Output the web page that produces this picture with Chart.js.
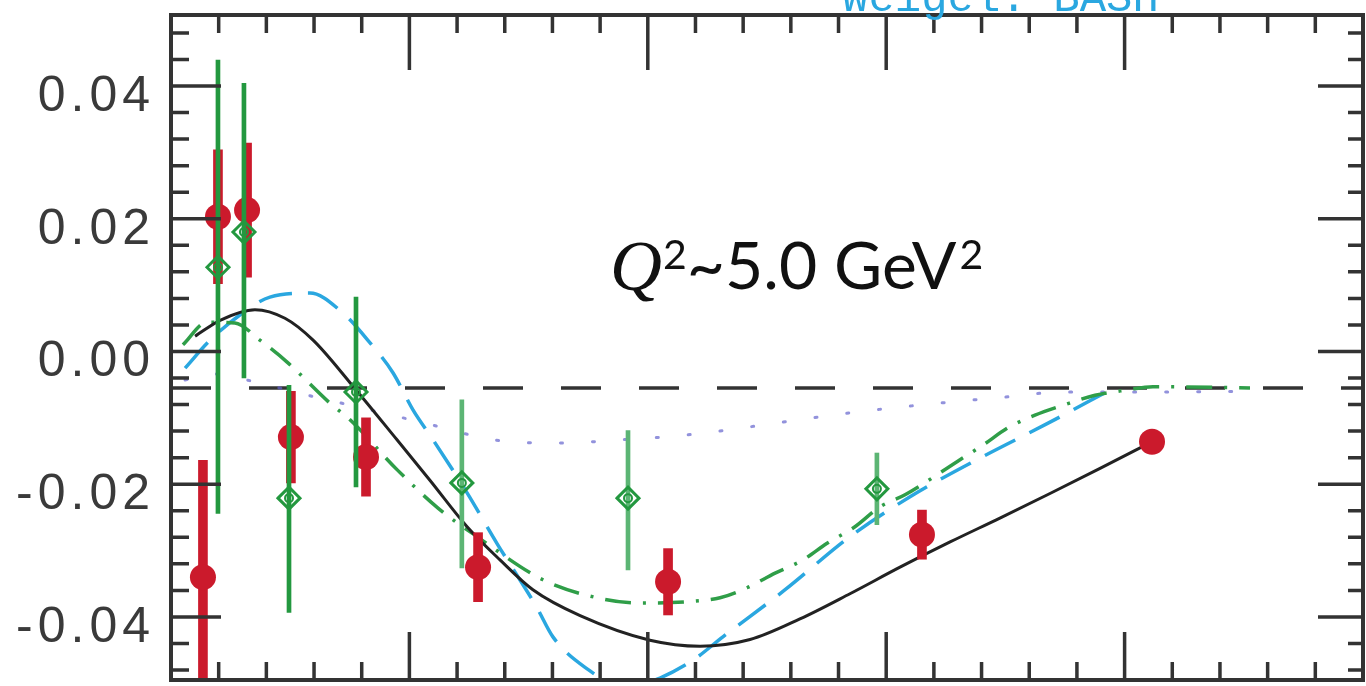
<!DOCTYPE html>
<html>
<head>
<meta charset="utf-8">
<script src="https://cdn.jsdelivr.net/npm/chart.js@4.4.1/dist/chart.umd.min.js"></script>
<style>
  html, body { margin: 0; padding: 0; background: #fff; }
  canvas { display: block; }
</style>
</head>
<body>
<canvas id="grafico" width="1366" height="686"></canvas>
<script>
// ------------------- DATA -------------------

// red filled circles (thick error bars)
const redX = [0.0134, 0.0197, 0.0319, 0.0503, 0.0818, 0.1288, 0.2085, 0.3150, 0.4115];
const redY = [-0.0340, 0.0203, 0.0213, -0.0129, -0.0159, -0.0325, -0.0347, -0.0276, -0.0136];
const redErr = [0.0176, 0.0101, 0.0101, 0.0069, 0.0059, 0.0052, 0.0050, 0.0037, 0.0000];

// green open diamonds (thin error bars, up / down)
const greenX = [0.0197, 0.0306, 0.0495, 0.0776, 0.1220, 0.1917, 0.2961];
const greenY = [0.0127, 0.0180, -0.0221, -0.0061, -0.0198, -0.0221, -0.0207];
const greenErrUp = [0.0312, 0.0224, 0.0170, 0.0143, 0.0125, 0.0102, 0.0054];
const greenErrDown = [0.0371, 0.0220, 0.0172, 0.0143, 0.0128, 0.0108, 0.0054];

// black solid curve
const blackX = [0.0101, 0.0206, 0.0352, 0.0478, 0.0596, 0.0751, 0.0948, 0.1086, 0.1242, 0.1380, 0.1518, 0.1716, 0.2009, 0.2219, 0.2429, 0.2638, 0.2848, 0.3058, 0.3268, 0.3477, 0.3687, 0.3897, 0.4115];
const blackY = [0.0023, 0.0047, 0.0063, 0.0050, 0.0017, -0.0047, -0.0133, -0.0194, -0.0264, -0.0314, -0.0359, -0.0398, -0.0435, -0.0444, -0.0434, -0.0403, -0.0365, -0.0325, -0.0287, -0.0251, -0.0214, -0.0176, -0.0136];

// cyan long dashes
const cyanX = [0.0059, 0.0164, 0.0289, 0.0415, 0.0583, 0.0721, 0.0835, 0.0931, 0.1015, 0.1099, 0.1242, 0.1367, 0.1535, 0.1602, 0.1741, 0.1904, 0.2051, 0.2190, 0.2315, 0.2576, 0.2848, 0.3100, 0.3381, 0.3679, 0.3939];
const cyanY = [-0.0025, 0.0017, 0.0055, 0.0082, 0.0088, 0.0058, 0.0013, -0.0032, -0.0088, -0.0133, -0.0213, -0.0289, -0.0386, -0.0430, -0.0477, -0.0507, -0.0492, -0.0465, -0.0430, -0.0359, -0.0279, -0.0219, -0.0163, -0.0108, -0.0058];

// green dash-dot
const dashDotX = [0.0050, 0.0151, 0.0268, 0.0373, 0.0487, 0.0667, 0.0751, 0.0948, 0.1120, 0.1284, 0.1560, 0.1787, 0.1967, 0.2169, 0.2303, 0.2416, 0.2534, 0.2651, 0.2752, 0.2869, 0.2974, 0.3079, 0.3297, 0.3406, 0.3511, 0.3624, 0.3742, 0.3876, 0.4010, 0.4119, 0.4526];
const dashDotY = [0.0010, 0.0044, 0.0043, 0.0017, -0.0016, -0.0078, -0.0103, -0.0178, -0.0236, -0.0279, -0.0344, -0.0371, -0.0379, -0.0377, -0.0371, -0.0356, -0.0334, -0.0314, -0.0289, -0.0264, -0.0234, -0.0216, -0.0166, -0.0141, -0.0115, -0.0096, -0.0081, -0.0066, -0.0058, -0.0053, -0.0055];

// blue dotted
const dotX = [0.0059, 0.0185, 0.0319, 0.0575, 0.0835, 0.1099, 0.1351, 0.1623, 0.1892, 0.2156, 0.2420, 0.2689, 0.2953, 0.3217, 0.3490, 0.3750, 0.4157, 0.4526];
const dotY = [-0.0043, -0.0034, -0.0043, -0.0066, -0.0088, -0.0111, -0.0133, -0.0138, -0.0133, -0.0126, -0.0114, -0.0100, -0.0088, -0.0078, -0.0069, -0.0061, -0.0061, -0.0060];

// black dashed reference line
const refLineX = [0, 0.5];
const refLineY = [-0.0055, -0.0055];

// axes
const xMin = 0, xMax = 0.5;
const yMin = -0.0495, yMax = 0.0507;
const xMajorTicks = [0.1, 0.2, 0.3, 0.4];
const yMajorTicks = [-0.04, -0.02, 0.00, 0.02, 0.04];
const xMinorTicks = [];
for (let k = 1; k < 25; k++) xMinorTicks.push(k * 0.02);
const yMinorTicks = [];
for (let k = -12; k <= 12; k++) yMinorTicks.push(k * 0.004);

const RED = '#cb1a2c';
const GREEN = '#23983f';
const GREEN_LIGHT = '#5cb574';

const pts = (xs, ys) => xs.map((x, i) => ({ x: x, y: ys[i] }));

// ------------------- FRAME, TICKS, TEXTS -------------------
const framePlugin = {
  id: 'frame',
  beforeDraw(chart) {
    chart.ctx.letterSpacing = '5px';
  },
  afterDraw(chart) {
    const ctx = chart.ctx;
    const a = chart.chartArea;
    const xs = chart.scales.x;
    const ys = chart.scales.y;
    ctx.save();
    ctx.letterSpacing = '0px';
    ctx.strokeStyle = '#333';
    ctx.lineWidth = 3.5;
    ctx.beginPath();
    xMinorTicks.forEach(v => {
      const px = xs.getPixelForValue(v);
      ctx.moveTo(px, a.top); ctx.lineTo(px, a.top + 18);
      ctx.moveTo(px, a.bottom); ctx.lineTo(px, a.bottom - 18);
    });
    xMajorTicks.forEach(v => {
      const px = xs.getPixelForValue(v);
      ctx.moveTo(px, a.top); ctx.lineTo(px, a.top + 55);
      ctx.moveTo(px, a.bottom); ctx.lineTo(px, a.bottom - 48);
    });
    yMinorTicks.forEach(v => {
      const py = ys.getPixelForValue(v);
      ctx.moveTo(a.left, py); ctx.lineTo(a.left + 18, py);
      ctx.moveTo(a.right, py); ctx.lineTo(a.right - 15, py);
    });
    yMajorTicks.forEach(v => {
      const py = ys.getPixelForValue(v);
      ctx.moveTo(a.left, py); ctx.lineTo(a.left + 50, py);
      ctx.moveTo(a.right, py); ctx.lineTo(a.right - 45, py);
    });
    ctx.stroke();
    ctx.lineWidth = 4;
    ctx.strokeRect(a.left, a.top, a.right - a.left, a.bottom - a.top);

    // Q^2 label
    ctx.fillStyle = '#111';
    ctx.textBaseline = 'alphabetic';
    let x = 610;
    ctx.font = 'italic 72px "Liberation Serif"';
    ctx.fillText('Q', x, 290);
    x += ctx.measureText('Q').width + 1;
    ctx.font = '41px Lato';
    ctx.fillText('2', x, 269);
    x += ctx.measureText('2').width;
    ctx.font = '66px Lato';
    ctx.fillText('~5.0 GeV', x, 289);
    x += ctx.measureText('~5.0 GeV').width + 3;
    ctx.font = '41px Lato';
    ctx.fillText('2', x, 269);

    // cut-off legend text at the top
    ctx.fillStyle = '#2aa7e0';
    ctx.font = '44px "Liberation Mono"';
    ctx.fillText('Weigel: BASH', 842, 11);
    ctx.restore();
  }
};

// ------------------- CHART -------------------
let canvas = document.getElementById('grafico').getContext('2d');

let chart = new Chart(canvas, {
  type: 'line',
  data: {
    datasets: [
      {
        data: pts(refLineX, refLineY),
        borderColor: '#333',
        borderWidth: 3.5,
        borderDash: [40, 38],
        pointRadius: 0,
        order: 10
      },
      {
        data: pts(dotX, dotY),
        borderColor: 'rgba(100, 100, 205, 0.7)',
        borderWidth: 3,
        borderDash: [2, 30],
        borderCapStyle: 'round',
        pointRadius: 0,
        cubicInterpolationMode: 'monotone',
        order: 9
      },
      {
        data: pts(cyanX, cyanY),
        borderColor: '#2aa7e0',
        borderWidth: 3.5,
        borderDash: [34, 16],
        pointRadius: 0,
        cubicInterpolationMode: 'monotone',
        order: 8
      },
      {
        data: pts(dashDotX, dashDotY),
        borderColor: '#2f9e48',
        borderWidth: 3.5,
        borderDash: [26, 12, 3, 12],
        pointRadius: 0,
        cubicInterpolationMode: 'monotone',
        order: 7
      },
      {
        data: pts(blackX, blackY),
        borderColor: '#222',
        borderWidth: 3,
        pointRadius: 0,
        cubicInterpolationMode: 'monotone',
        order: 6
      },
      {
        type: 'bar',
        data: redX.map((x, i) => ({ x: x, y: [redY[i] - redErr[i], redY[i] + redErr[i]] })),
        backgroundColor: RED,
        borderWidth: 0,
        barThickness: 9,
        grouped: false,
        order: 5
      },
      {
        data: pts(redX, redY),
        showLine: false,
        pointStyle: 'circle',
        pointRadius: 13,
        pointBackgroundColor: RED,
        pointBorderColor: RED,
        pointBorderWidth: 0,
        order: 4
      },
      {
        type: 'bar',
        data: greenX.map((x, i) => ({ x: x, y: [greenY[i] - greenErrDown[i], greenY[i] + greenErrUp[i]] })),
        backgroundColor: [GREEN, GREEN, GREEN, GREEN, GREEN_LIGHT, GREEN_LIGHT, GREEN_LIGHT],
        borderWidth: 0,
        barThickness: 4,
        grouped: false,
        order: 3
      },
      {
        data: pts(greenX, greenY),
        showLine: false,
        pointStyle: 'rectRot',
        pointRadius: 11,
        pointBackgroundColor: 'rgba(255,255,255,0)',
        pointBorderColor: GREEN,
        pointBorderWidth: 3,
        order: 2
      },
      {
        data: pts(greenX, greenY),
        showLine: false,
        pointStyle: 'circle',
        pointRadius: 4,
        pointBackgroundColor: 'rgba(255,255,255,0)',
        pointBorderColor: GREEN,
        pointBorderWidth: 2,
        order: 1
      }
    ]
  },
  options: {
    responsive: false,
    animation: false,
    layout: {
      autoPadding: false,
      padding: { top: 15, right: 3, bottom: 0, left: 0 }
    },
    plugins: {
      legend: { display: false },
      tooltip: { enabled: false },
      title: { display: false }
    },
    scales: {
      x: {
        type: 'linear',
        min: xMin,
        max: xMax,
        offset: false,
        afterFit: s => {
          s.height = 6;
          s.paddingLeft = 0; s.paddingRight = 0;
          s.paddingTop = 0; s.paddingBottom = 0;
        },
        ticks: { display: false },
        grid: { display: false, drawTicks: false, offset: false },
        border: { display: false }
      },
      y: {
        type: 'linear',
        min: yMin,
        max: yMax,
        afterFit: s => {
          s.width = 171;
          s.paddingTop = 0; s.paddingBottom = 0;
          s.paddingLeft = 0; s.paddingRight = 0;
        },
        afterBuildTicks: s => { s.ticks = yMajorTicks.map(v => ({ value: v })); },
        ticks: {
          callback: v => v.toFixed(2),
          font: { family: 'Liberation Sans', size: 50 },
          color: '#3a3a3a',
          padding: 16,
          labelOffset: 11
        },
        grid: { display: false, drawTicks: false },
        border: { display: false }
      }
    }
  },
  plugins: [framePlugin]
});
</script>
</body>
</html>
